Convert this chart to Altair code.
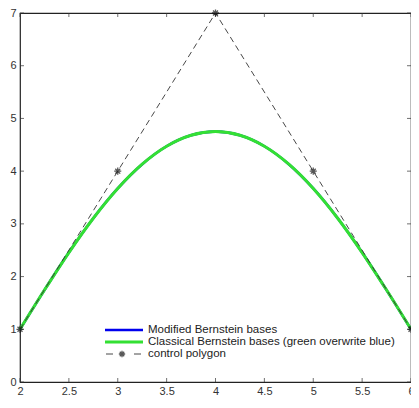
import altair as alt
import pandas as pd

# control polygon
ctrl_x = [2, 3, 4, 5, 6]
ctrl_y = [1, 4, 7, 4, 1]

# curve values
curve_x = [2.0, 2.25, 2.5, 2.75, 3.0, 3.25, 3.5, 3.75, 4.0,
           4.25, 4.5, 4.75, 5.0, 5.25, 5.5, 5.75, 6.0]
curve_y = [1.0, 1.744, 2.456, 3.107, 3.672, 4.132, 4.472, 4.680, 4.75,
           4.680, 4.472, 4.132, 3.672, 3.107, 2.456, 1.744, 1.0]

series_names = ["Modified Bernstein bases",
                "Classical Bernstein bases (green overwrite blue)",
                "control polygon"]
blue_c, green_c, poly_c = "#0000ee", "#33e033", "#333333"

x_ticks = [2, 2.5, 3, 3.5, 4, 4.5, 5, 5.5, 6]
y_ticks = [0, 1, 2, 3, 4, 5, 6, 7]

W, H = 391, 369
FONT = "Liberation Sans"

df_curve = pd.DataFrame({"x": curve_x, "y": curve_y})
df_poly = pd.DataFrame({"x": ctrl_x, "y": ctrl_y})

xs = alt.Scale(domain=[2, 6], nice=False, zero=False)
ys = alt.Scale(domain=[0, 7], nice=False, zero=False)

xenc = alt.X("x:Q", scale=xs, axis=alt.Axis(values=x_ticks, title=None, labelFlush=False, format="~g"))
yenc = alt.Y("y:Q", scale=ys, axis=alt.Axis(values=y_ticks, title=None, format="~g"))

blue = alt.Chart(df_curve).mark_line(interpolate="monotone", color=blue_c, strokeWidth=2.5).encode(x=xenc, y=yenc)
green = alt.Chart(df_curve).mark_line(interpolate="monotone", color=green_c, strokeWidth=3).encode(x=xenc, y=yenc)
poly = alt.Chart(df_poly).mark_line(color=poly_c, strokeWidth=0.9, strokeDash=[6, 4]).encode(x=xenc, y=yenc)

star = "M-1,0L1,0M0,-1L0,1M-0.7,-0.7L0.7,0.7M-0.7,0.7L0.7,-0.7"
points = alt.Chart(df_poly).mark_point(shape=star, filled=False, color="#111", size=50, strokeWidth=1.3).encode(
    x=alt.X("x:Q", scale=xs), y=alt.Y("y:Q", scale=ys))

xt = pd.DataFrame({"x": x_ticks})
yt = pd.DataFrame({"y": y_ticks})
tick_style = dict(color="#333", size=4, thickness=1)
tick_b = alt.Chart(xt).mark_tick(orient="vertical", **tick_style).encode(x=alt.X("x:Q", scale=xs), y=alt.value(H - 2))
tick_t = alt.Chart(xt).mark_tick(orient="vertical", **tick_style).encode(x=alt.X("x:Q", scale=xs), y=alt.value(2))
tick_l = alt.Chart(yt).mark_tick(orient="horizontal", **tick_style).encode(y=alt.Y("y:Q", scale=ys), x=alt.value(2))
tick_r = alt.Chart(yt).mark_tick(orient="horizontal", **tick_style).encode(y=alt.Y("y:Q", scale=ys), x=alt.value(W - 2))

# legend (manual, MATLAB style)
LX0, LX1, LT = 85, 123, 128
rows = [H - 52, H - 40, H - 28]
one = pd.DataFrame({"k": [0]})
leg = []
leg.append(alt.Chart(one).mark_rule(color=blue_c, strokeWidth=2.5).encode(
    x=alt.value(LX0), x2=alt.value(LX1), y=alt.value(rows[0])))
leg.append(alt.Chart(one).mark_rule(color=green_c, strokeWidth=3).encode(
    x=alt.value(LX0), x2=alt.value(LX1), y=alt.value(rows[1])))
leg.append(alt.Chart(one).mark_rule(color=poly_c, strokeWidth=0.9).encode(
    x=alt.value(LX0 + 1), x2=alt.value(LX0 + 8), y=alt.value(rows[2])))
leg.append(alt.Chart(one).mark_rule(color=poly_c, strokeWidth=0.9).encode(
    x=alt.value(LX1 - 9), x2=alt.value(LX1 - 2), y=alt.value(rows[2])))
leg.append(alt.Chart(one).mark_point(shape=star, filled=False, color="#111", size=40, strokeWidth=1.3).encode(
    x=alt.value((LX0 + LX1) / 2 - 2), y=alt.value(rows[2])))
for name, ry in zip(series_names, rows):
    leg.append(alt.Chart(one).mark_text(text=name, align="left", baseline="middle", font=FONT,
                                         fontSize=11.5, color="#222").encode(
        x=alt.value(LT), y=alt.value(ry)))

chart = alt.layer(
    tick_b, tick_t, tick_l, tick_r,
    blue, green, poly, points, *leg
).properties(
    width=W, height=H,
    autosize=alt.AutoSizeParams(type="none"),
    padding={"left": 12, "top": 5, "right": 0, "bottom": 14},
).configure_view(
    stroke="#222", strokeWidth=1.2
).configure_axis(
    grid=False, domain=False, ticks=False,
    labelFont=FONT, labelFontSize=11, labelColor="#333",
).configure_axisX(labelPadding=3).configure_axisY(labelPadding=4)

chart.save("out.html", embed_options={"renderer": "svg", "actions": False})
